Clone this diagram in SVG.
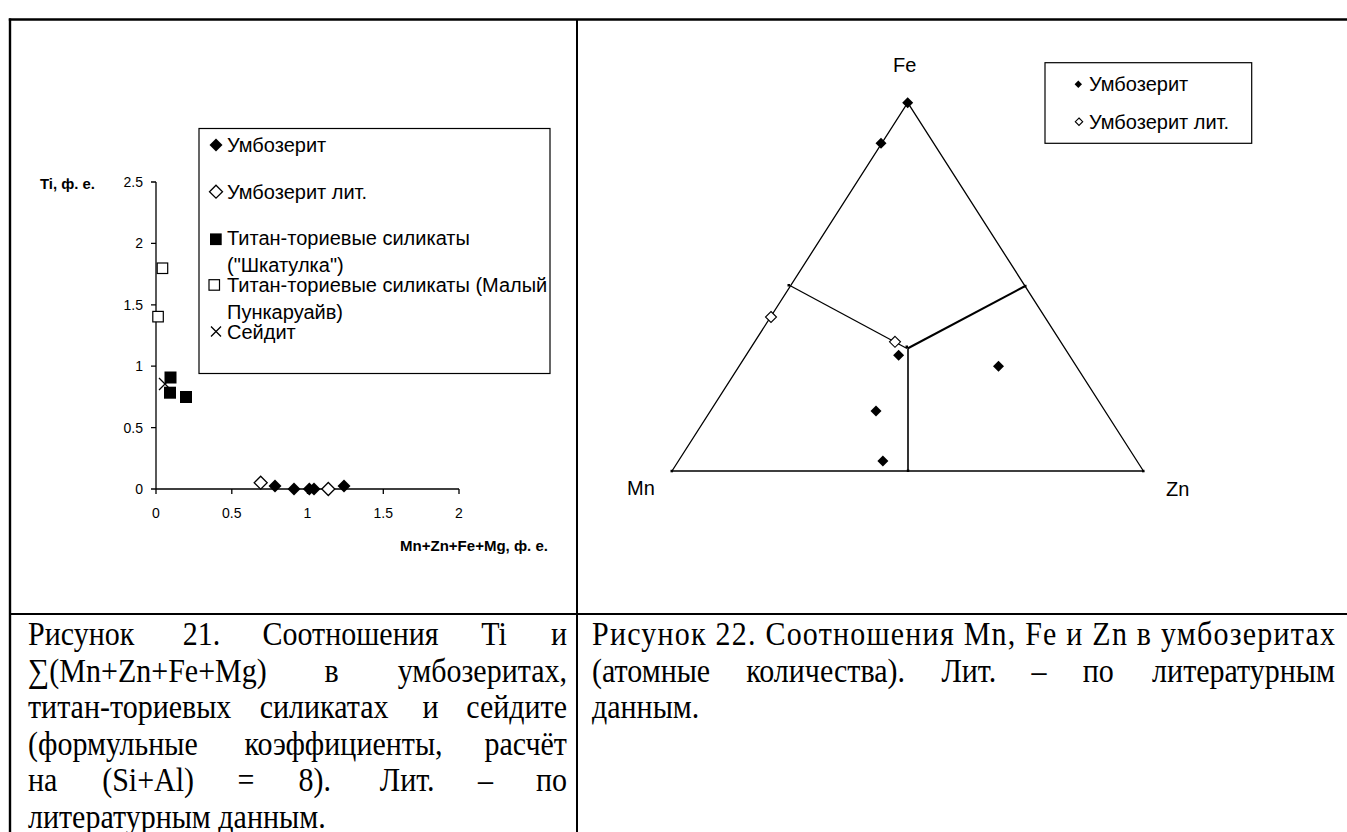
<svg xmlns="http://www.w3.org/2000/svg" width="1347" height="832" viewBox="0 0 1347 832">
<style>
.ln{stroke:#000;fill:none}
.ax{stroke:#000;stroke-width:1.3;fill:none}
.sans{font-family:"Liberation Sans",Arial,sans-serif;fill:#000}
.tick{font-size:14px}
.ttl{font-size:14px;font-weight:bold}
.leg{font-size:20px}
.cap{font-family:"Liberation Serif","Times New Roman",serif;font-size:30px;fill:#000}
</style>
<defs>
<path id="d6" d="M0,-6.5L6.5,0L0,6.5L-6.5,0Z"/>
<path id="d5" d="M0,-5.5L5.5,0L0,5.5L-5.5,0Z"/>
<path id="d3" d="M0,-3.7L3.7,0L0,3.7L-3.7,0Z"/>
</defs>
<rect width="1347" height="832" fill="#fff"/>

<g id="table">
<line class="ln" x1="8.8" y1="19.5" x2="1347" y2="19.5" stroke-width="2.6"/>
<line class="ln" x1="10" y1="18.5" x2="10" y2="832" stroke-width="2.4"/>
<line class="ln" x1="577" y1="19" x2="577" y2="832" stroke-width="2"/>
<line class="ln" x1="10" y1="614" x2="1347" y2="614" stroke-width="2"/>
</g>

<g id="chart21">
<g id="axes21">
<path class="ax" d="M156,182V489H459M151,182H156M151,243.4H156M151,304.8H156M151,366.2H156M151,427.6H156M151,489H156M156,489V494M231.8,489V494M307.5,489V494M383.3,489V494M459,489V494"/>
<g class="sans tick" text-anchor="end">
<text x="143" y="187">2.5</text>
<text x="143" y="248.4">2</text>
<text x="143" y="309.8">1.5</text>
<text x="143" y="371.2">1</text>
<text x="143" y="432.6">0.5</text>
<text x="143" y="494">0</text>
</g>
<g class="sans tick" text-anchor="middle">
<text x="156" y="518">0</text>
<text x="231.8" y="518">0.5</text>
<text x="307.5" y="518">1</text>
<text x="383.3" y="518">1.5</text>
<text x="459" y="518">2</text>
</g>
<text class="sans ttl" x="40" y="189" textLength="55" lengthAdjust="spacingAndGlyphs">Ti, ф. е.</text>
<text class="sans ttl" x="400" y="551" textLength="148" lengthAdjust="spacingAndGlyphs">Mn+Zn+Fe+Mg, ф. е.</text>
</g>
<g id="legend21">
<rect class="ln" x="199" y="128.5" width="351" height="245" stroke-width="1.2"/>
<use href="#d6" x="216" y="145" fill="#000"/>
<use href="#d6" x="216" y="191.7" fill="#fff" stroke="#000" stroke-width="1.3"/>
<rect x="210" y="233.4" width="11.7" height="11.7" fill="#000"/>
<rect x="209" y="279.7" width="10.5" height="10.5" fill="#fff" stroke="#000" stroke-width="1.2"/>
<path class="ln" d="M211,326.5L221,336.5M221,326.5L211,336.5" stroke-width="1.3"/>
<g class="sans leg">
<text x="227" y="152">Умбозерит</text>
<text x="227" y="198.5">Умбозерит лит.</text>
<text x="227" y="245">Титан-ториевые силикаты</text>
<text x="227" y="272">("Шкатулка")</text>
<text x="227" y="292">Титан-ториевые силикаты (Малый</text>
<text x="227" y="318.5">Пункаруайв)</text>
<text x="227" y="338.5">Сейдит</text>
</g>
</g>
<g id="points21">
<rect x="157.2" y="263" width="10.5" height="10.5" fill="#fff" stroke="#000" stroke-width="1.2"/>
<rect x="152.8" y="311.4" width="10.5" height="10.5" fill="#fff" stroke="#000" stroke-width="1.2"/>
<path class="ln" d="M159,378L171,390M171,378L159,390" stroke-width="1.3"/>
<rect x="164.5" y="371.5" width="12" height="12" fill="#000"/>
<rect x="164" y="386.7" width="12" height="12" fill="#000"/>
<rect x="180" y="391" width="12" height="12" fill="#000"/>
<use href="#d6" x="260.7" y="482.7" fill="#fff" stroke="#000" stroke-width="1.3"/>
<use href="#d6" x="328.3" y="489" fill="#fff" stroke="#000" stroke-width="1.3"/>
<use href="#d6" x="275" y="486" fill="#000"/>
<use href="#d6" x="294" y="489" fill="#000"/>
<use href="#d6" x="309.3" y="489" fill="#000"/>
<use href="#d6" x="314" y="489" fill="#000"/>
<use href="#d6" x="344" y="486" fill="#000"/>
</g>
</g>

<g id="chart22">
<g id="triangle">
<polygon class="ln" points="907.7,102.7 1143.4,471 672,471" stroke-width="1.3"/>
<path class="ln" d="M790.8,286L907,348.5" stroke-width="1.3"/>
<path class="ln" d="M907.5,348.5L1025.2,286" stroke-width="2"/>
<path class="ln" d="M908,348.5V471" stroke-width="1.6"/>
<g fill="#000">
<rect x="787.5" y="284" width="2.5" height="2.5"/>
<rect x="905.5" y="345.5" width="2.5" height="2.5"/>
<rect x="906.8" y="469.5" width="2.5" height="2.5"/>
<rect x="670.5" y="469.8" width="2.5" height="2.5"/>
<rect x="1142" y="469.8" width="2.5" height="2.5"/>
<rect x="1024" y="284.8" width="2.5" height="2.5"/>
</g>
</g>
<g id="labels22" class="sans leg">
<text x="893" y="72">Fe</text>
<text x="627" y="495">Mn</text>
<text x="1166" y="496">Zn</text>
</g>
<g id="points22">
<use href="#d5" x="907.7" y="102.7" fill="#000"/>
<use href="#d5" x="881" y="143.3" fill="#000"/>
<use href="#d5" x="898.6" y="355.2" fill="#000"/>
<use href="#d5" x="998.5" y="366.2" fill="#000"/>
<use href="#d5" x="876" y="411" fill="#000"/>
<use href="#d5" x="882.9" y="461" fill="#000"/>
<use href="#d5" x="771" y="317" fill="#fff" stroke="#000" stroke-width="1.1"/>
<use href="#d5" x="895" y="341.8" fill="#fff" stroke="#000" stroke-width="1.1"/>
</g>
<g id="legend22">
<rect class="ln" x="1045" y="62.7" width="206.7" height="80.6" stroke-width="1.2"/>
<use href="#d3" x="1078.3" y="84.3" fill="#000"/>
<use href="#d3" x="1079" y="121.7" fill="#fff" stroke="#000" stroke-width="1.1"/>
<g class="sans leg">
<text x="1089" y="90.5">Умбозерит</text>
<text x="1089" y="129">Умбозерит лит.</text>
</g>
</g>
</g>

<g id="caption21" class="cap">
<g transform="translate(0,645) scale(1,1.12)"><text y="0"><tspan x="28">Рисунок</tspan><tspan x="182.7">21.</tspan><tspan x="262.5">Соотношения</tspan><tspan x="481.2">Ti</tspan><tspan x="567" text-anchor="end">и</tspan></text></g>
<g transform="translate(0,681.5) scale(1,1.12)"><text y="0"><tspan x="28">∑(Mn+Zn+Fe+Mg)</tspan><tspan x="324.5">в</tspan><tspan x="567" text-anchor="end">умбозеритах,</tspan></text></g>
<g transform="translate(0,718) scale(1,1.12)"><text y="0"><tspan x="28">титан-ториевых</tspan><tspan x="259.7">силикатах</tspan><tspan x="422.4">и</tspan><tspan x="567" text-anchor="end">сейдите</tspan></text></g>
<g transform="translate(0,754.5) scale(1,1.12)"><text y="0"><tspan x="28">(формульные</tspan><tspan x="244.5">коэффициенты,</tspan><tspan x="567" text-anchor="end">расчёт</tspan></text></g>
<g transform="translate(0,791) scale(1,1.12)"><text y="0"><tspan x="28">на</tspan><tspan x="102.2">(Si+Al)</tspan><tspan x="237.4">=</tspan><tspan x="298.6">8).</tspan><tspan x="379.8">Лит.</tspan><tspan x="478">–</tspan><tspan x="567" text-anchor="end">по</tspan></text></g>
<g transform="translate(0,827.5) scale(1,1.12)"><text y="0"><tspan x="28">литературным данным.</tspan></text></g>
</g>

<g id="caption22" class="cap">
<g transform="translate(0,645) scale(1,1.12)"><text x="592" y="0" textLength="743" lengthAdjust="spacing">Рисунок 22. Соотношения Mn, Fe и Zn в умбозеритах</text></g>
<g transform="translate(0,681.5) scale(1,1.12)"><text y="0"><tspan x="592">(атомные</tspan><tspan x="746.2">количества).</tspan><tspan x="941.4">Лит.</tspan><tspan x="1031.6">–</tspan><tspan x="1082.8">по</tspan><tspan x="1335" text-anchor="end">литературным</tspan></text></g>
<g transform="translate(0,718) scale(1,1.12)"><text y="0"><tspan x="592">данным.</tspan></text></g>
</g>
</svg>
